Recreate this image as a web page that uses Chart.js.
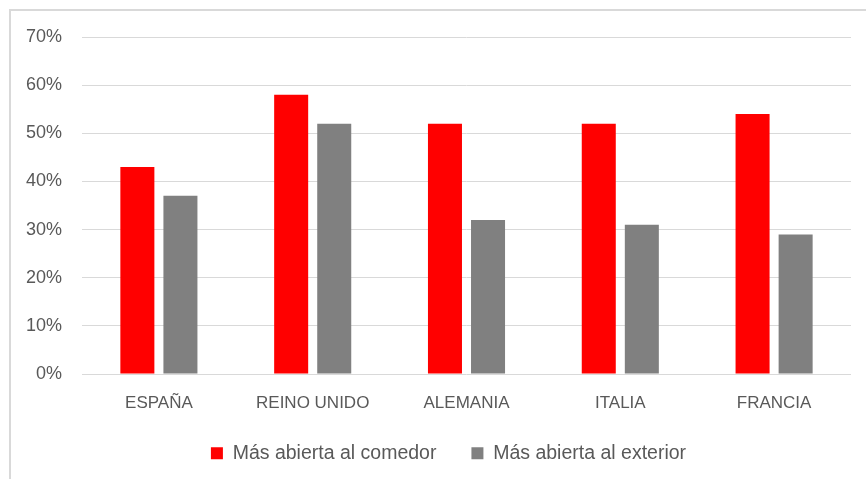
<!DOCTYPE html>
<html>
<head>
<meta charset="utf-8">
<script src="https://cdn.jsdelivr.net/npm/chart.js@4/dist/chart.umd.min.js"></script>
<style>
  html, body { margin: 0; padding: 0; background: #ffffff; overflow: hidden; width: 866px; height: 479px; }
  #frame { position: absolute; left: 9px; top: 9px; width: 900px; height: 520px; border-left: 2px solid #d9d9d9; border-top: 2px solid #d9d9d9; }
  #c { position: absolute; left: 0; top: 0; }
</style>
</head>
<body>
<div id="frame"></div>
<canvas id="c" width="866" height="479"></canvas>
<script>
const categories = ['ESPAÑA', 'REINO UNIDO', 'ALEMANIA', 'ITALIA', 'FRANCIA'];
const seriesNames = ['Más abierta al comedor', 'Más abierta al exterior'];
const comedorValues = [43, 58, 52, 52, 54];
const exteriorValues = [37, 52, 32, 31, 29];
const yTickLabels = ['0%', '10%', '20%', '30%', '40%', '50%', '60%', '70%'];

const textColor = '#595959';
const gridColor = '#d9d9d9';

const legendFitPlugin = {
  id: 'legendFit',
  afterInit(chart) {
    const lg = chart.legend;
    if (!lg) return;
    const orig = lg.fit.bind(lg);
    lg.fit = function () {
      orig();
      this.height = 70.5;
    };
  },
  afterLayout(chart) {
    const lg = chart.legend;
    if (!lg) return;
    lg.left += 23;
    lg.right += 23;
  }
};

new Chart(document.getElementById('c'), {
  type: 'bar',
  data: {
    labels: categories,
    datasets: [
      { label: seriesNames[0], data: comedorValues, backgroundColor: '#ff0000', borderWidth: 0 },
      { label: seriesNames[1], data: exteriorValues, backgroundColor: '#808080', borderWidth: 0 }
    ]
  },
  options: {
    responsive: false,
    animation: false,
    devicePixelRatio: 1,
    barPercentage: 0.79,
    categoryPercentage: 0.56,
    layout: { padding: { left: 0, right: 15, top: 37, bottom: 0 } },
    plugins: {
      tooltip: { enabled: false },
      legend: {
        position: 'bottom',
        labels: {
          boxWidth: 12,
          boxHeight: 12,
          padding: 35,
          color: textColor,
          font: { family: "'Liberation Sans', Arial, sans-serif", size: 19.5 }
        }
      }
    },
    scales: {
      x: {
        grid: { display: false, drawTicks: false },
        border: { display: false },
        ticks: {
          color: textColor,
          padding: 19.5,
          font: { family: "'Liberation Sans', Arial, sans-serif", size: 17 }
        },
        afterFit(scale) { scale.height = 34.5; }
      },
      y: {
        min: 0,
        max: 70,
        grid: { color: gridColor, lineWidth: 1, drawTicks: false },
        border: { display: false },
        ticks: {
          stepSize: 10,
          color: textColor,
          padding: 20,
          font: { family: "'Liberation Sans', Arial, sans-serif", size: 18 },
          callback: (v, i) => yTickLabels[i]
        },
        afterFit(scale) { scale.width = 82; }
      }
    }
  },
  plugins: [legendFitPlugin]
});
</script>
</body>
</html>
